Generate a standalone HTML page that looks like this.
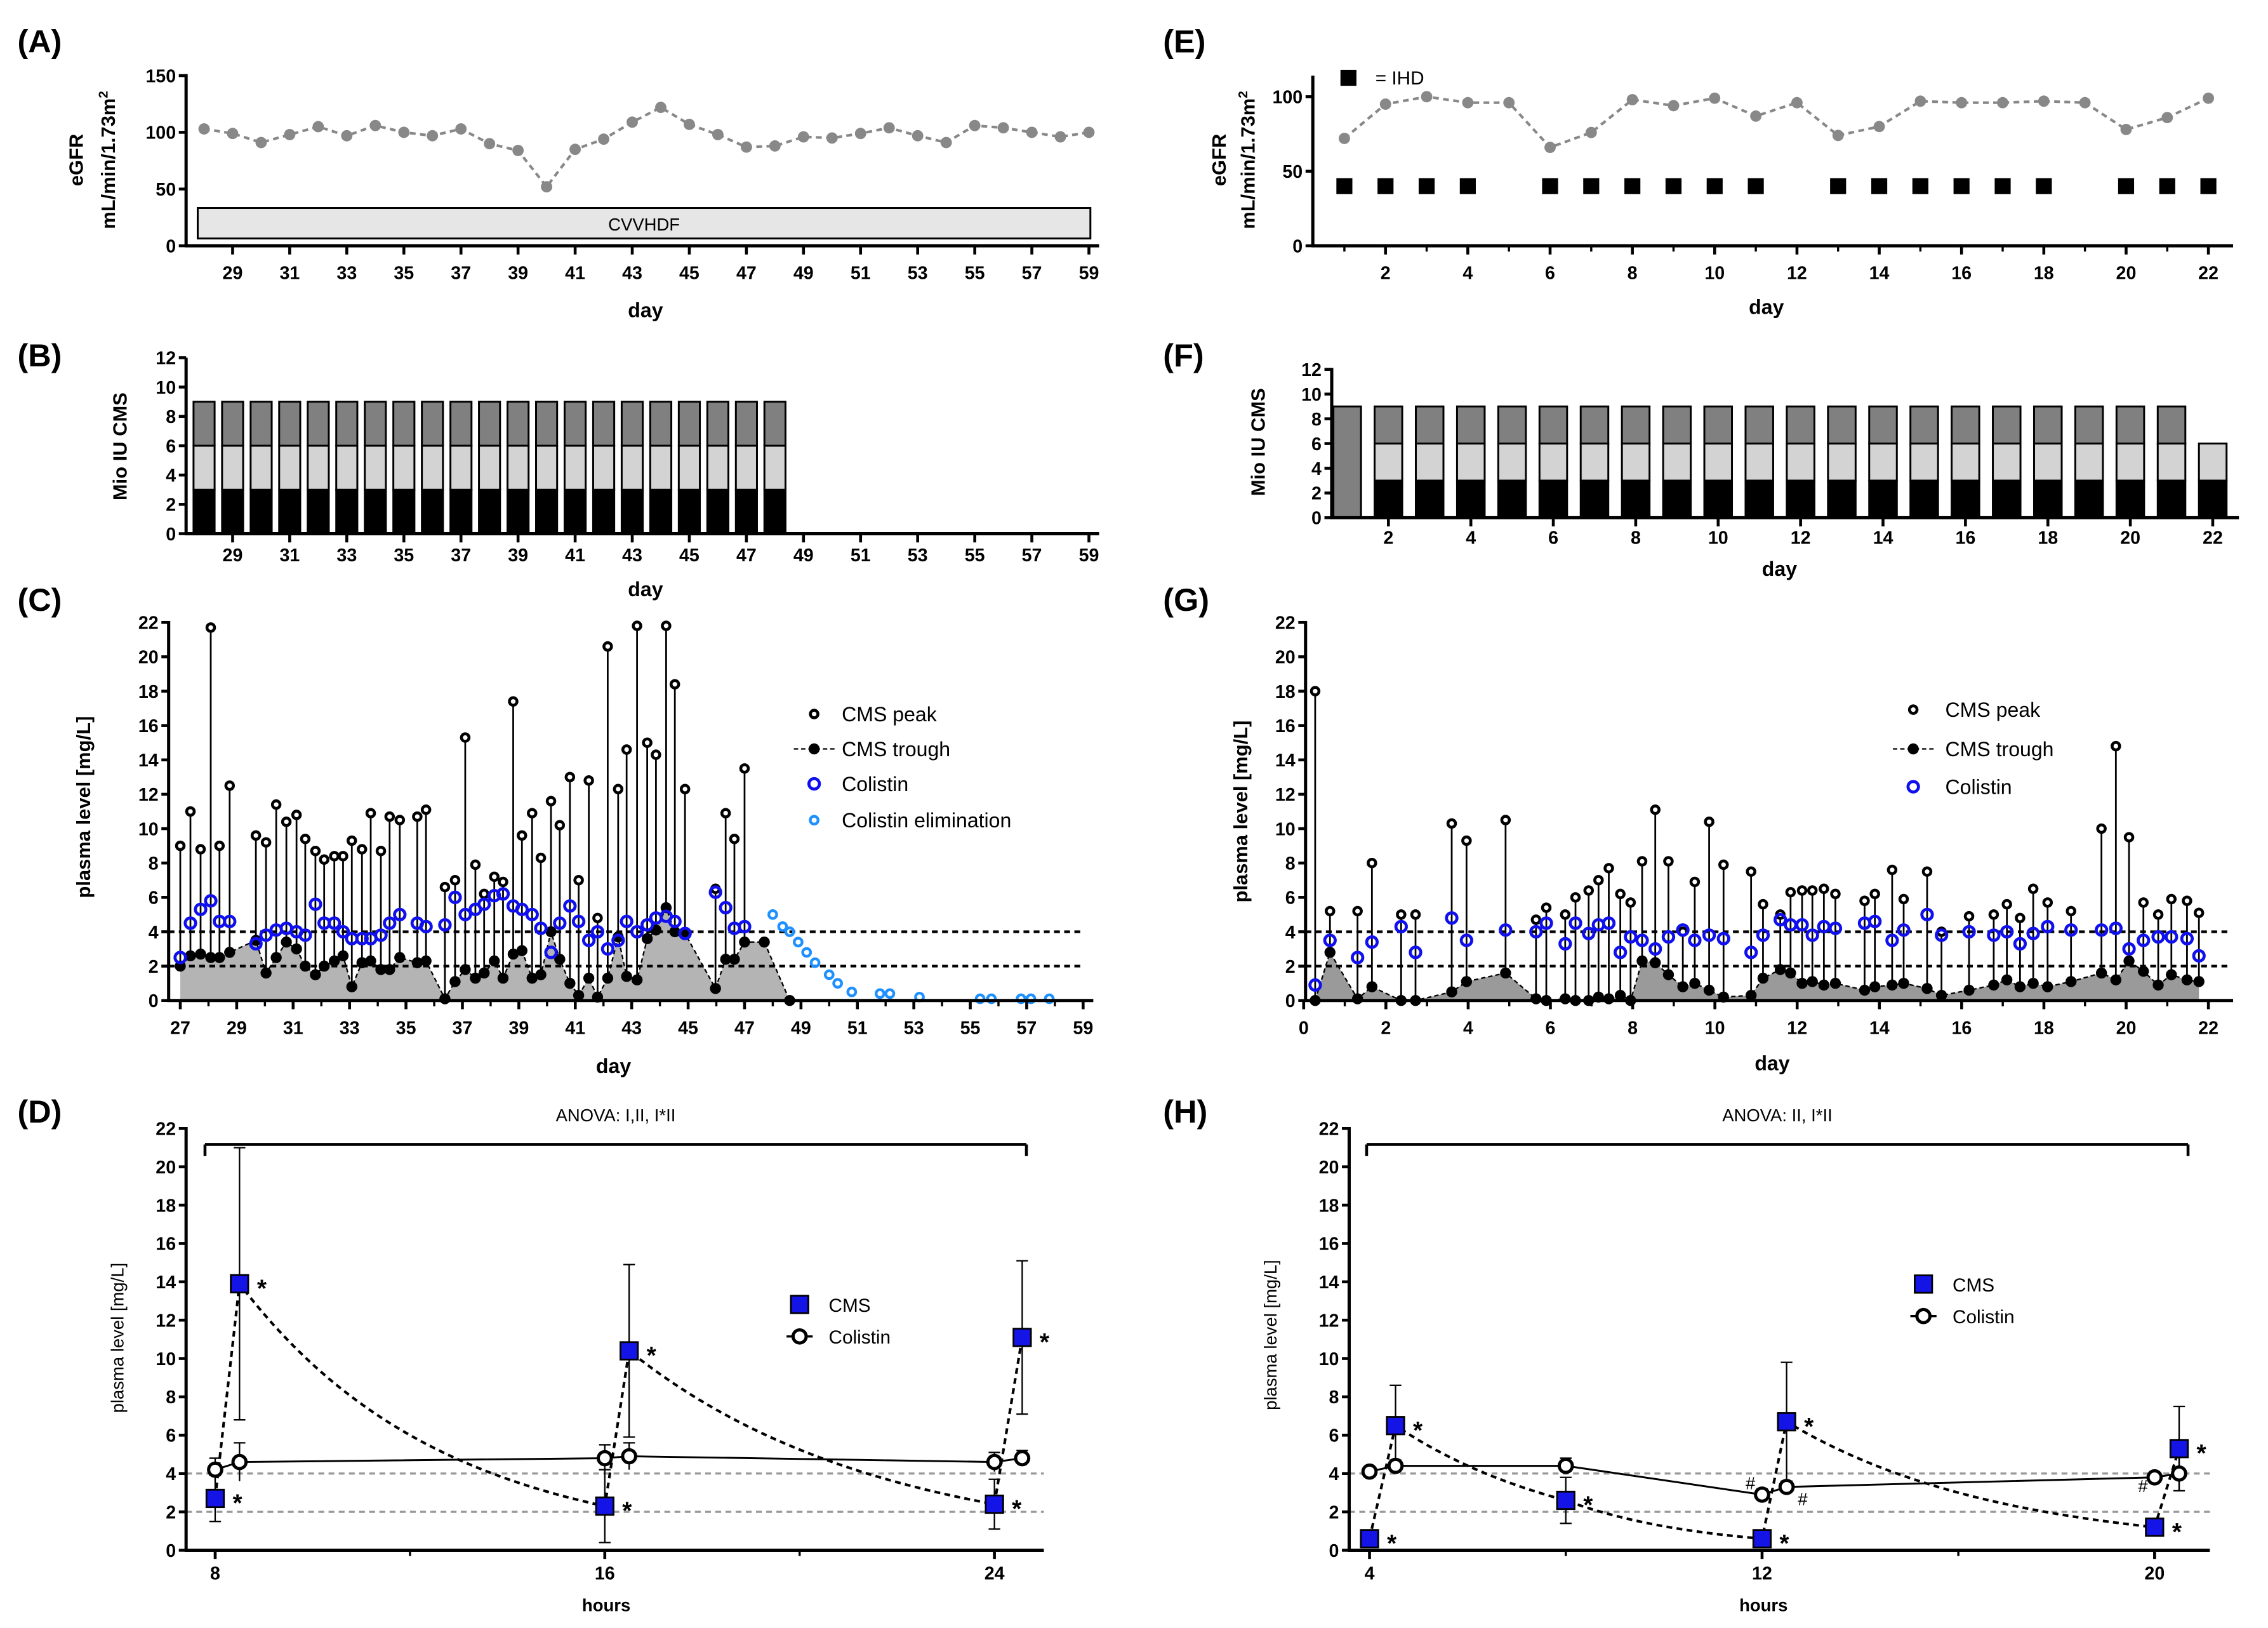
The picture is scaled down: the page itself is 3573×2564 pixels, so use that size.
<!DOCTYPE html>
<html><head><meta charset="utf-8">
<style>
html,body{margin:0;padding:0;background:#fff;}
svg{display:block;font-family:"Liberation Sans",Arial,sans-serif;}
</style></head>
<body>
<svg id="fig" xmlns="http://www.w3.org/2000/svg" width="3573" height="2564" viewBox="0 0 1560 1119.5" preserveAspectRatio="none"></svg>
<script>
// ===== Data =====
// Panel A
const aDays=[28,29,30,31,32,33,34,35,36,37,38,39,40,41,42,43,44,45,46,47,48,49,50,51,52,53,54,55,56,57,58,59];
const aEgfr=[103,99,91,98,105,97,106,100,97,103,90,84,52,85,94,109,122,107,98,87,88,96,95,99,104,97,91,106,104,100,96,100];
const aXTicks=[29,31,33,35,37,39,41,43,45,47,49,51,53,55,57,59];
const aYTicks=[0,50,100,150];
// Panel B
const bDays=[28,29,30,31,32,33,34,35,36,37,38,39,40,41,42,43,44,45,46,47,48];
const bDose1=[3,3,3,3,3,3,3,3,3,3,3,3,3,3,3,3,3,3,3,3,3];
const bDose2=[3,3,3,3,3,3,3,3,3,3,3,3,3,3,3,3,3,3,3,3,3];
const bDose3=[3,3,3,3,3,3,3,3,3,3,3,3,3,3,3,3,3,3,3,3,3];
const bYTicks=[0,2,4,6,8,10,12];
// Panel C
const cDays=[27.0,27.36,27.72,28.08,28.39,28.75,29.68,30.04,30.40,30.76,31.12,31.43,31.79,32.10,32.46,32.77,33.08,33.44,33.75,34.11,34.42,34.78,35.40,35.71,36.38,36.74,37.10,37.46,37.77,38.13,38.44,38.80,39.11,39.47,39.78,40.14,40.45,40.81,41.12,41.48,41.79,42.15,42.52,42.82,43.19,43.55,43.86,44.22,44.53,44.89,45.97,46.33,46.64,47.0];
const cPeak=[9.0,11.0,8.8,21.7,9.0,12.5,9.6,9.2,11.4,10.4,10.8,9.4,8.7,8.2,8.4,8.4,9.3,8.8,10.9,8.7,10.7,10.5,10.7,11.1,6.6,7.0,15.3,7.9,6.2,7.2,6.9,17.4,9.6,10.9,8.3,11.6,10.2,13.0,7.0,12.8,4.8,20.6,12.3,14.6,21.8,15.0,14.3,21.8,18.4,12.3,6.5,10.9,9.4,13.5];
const cTrough=[2.0,2.6,2.7,2.5,2.5,2.8,3.5,1.6,2.5,3.4,3.0,2.0,1.5,2.0,2.3,2.6,0.8,2.2,2.3,1.8,1.8,2.5,2.2,2.3,0.1,1.1,1.8,1.3,1.6,2.3,1.3,2.7,2.9,1.3,1.5,4.0,2.4,1.0,0.3,1.3,0.2,1.3,3.7,1.4,1.2,3.6,4.1,5.4,4.0,3.9,0.7,2.4,2.4,3.4];
const cColistin=[2.5,4.5,5.3,5.8,4.6,4.6,3.3,3.8,4.1,4.2,4.0,3.8,5.6,4.5,4.5,4.0,3.6,3.6,3.6,3.8,4.5,5.0,4.5,4.3,4.4,6.0,5.0,5.3,5.6,6.1,6.2,5.5,5.3,5.0,4.2,2.8,4.5,5.5,4.6,3.5,4.0,3.0,3.5,4.6,4.0,4.4,4.8,4.9,4.6,3.9,6.3,5.4,4.2,4.3];
const cTroughEndDay=[47.7,48.6];
const cTroughEndVal=[3.4,0];
const cElimDays=[48.0,48.35,48.6,48.9,49.2,49.5,50.0,50.3,50.8,51.8,52.15,53.2,55.35,55.75,56.8,57.15,57.8];
const cElimVals=[5.0,4.3,4.0,3.4,2.8,2.2,1.5,1.0,0.5,0.4,0.4,0.2,0.1,0.1,0.1,0.1,0.1];
const cXTicks=[27,29,31,33,35,37,39,41,43,45,47,49,51,53,55,57,59];
const cYTicks=[0,2,4,6,8,10,12,14,16,18,20,22];
// Panel D
const dCmsHours=[8,8.5,16,16.5,24,24.57];
const dCmsVals=[2.7,13.9,2.3,10.4,2.4,11.1];
const dCmsErr=[1.2,7.1,1.9,4.5,1.3,4.0];
const dColHours=[8,8.5,16,16.5,24,24.57];
const dColVals=[4.2,4.6,4.8,4.9,4.6,4.8];
const dColErr=[0.6,1.0,0.7,0.7,0.5,0.4];
const dXTicks=[8,16,24];
const dYTicks=[0,2,4,6,8,10,12,14,16,18,20,22];
// Panel E
const eDays=[1,2,3,4,5,6,7,8,9,10,11,12,13,14,15,16,17,18,19,20,21,22];
const eEgfr=[72,95,100,96,96,66,76,98,94,99,87,96,74,80,97,96,96,97,96,78,86,99];
const eIhdDays=[1,2,3,4,6,7,8,9,10,11,13,14,15,16,17,18,20,21,22];
const eXTicks=[2,4,6,8,10,12,14,16,18,20,22];
const eYTicks=[0,50,100];
// Panel F
const fDays=[1,2,3,4,5,6,7,8,9,10,11,12,13,14,15,16,17,18,19,20,21,22];
const fDose1=[0,3,3,3,3,3,3,3,3,3,3,3,3,3,3,3,3,3,3,3,3,3];
const fDose2=[0,3,3,3,3,3,3,3,3,3,3,3,3,3,3,3,3,3,3,3,3,3];
const fDose3=[9,3,3,3,3,3,3,3,3,3,3,3,3,3,3,3,3,3,3,3,3,0];
const fXTicks=[2,4,6,8,10,12,14,16,18,20,22];
// Panel G
const gDays=[0.28,0.64,1.31,1.66,2.37,2.72,3.60,3.96,4.91,5.65,5.90,6.36,6.61,6.93,7.17,7.42,7.70,7.95,8.23,8.55,8.87,9.22,9.51,9.86,10.21,10.88,11.17,11.59,11.84,12.12,12.37,12.65,12.93,13.64,13.89,14.31,14.59,15.16,15.51,16.18,16.78,17.10,17.42,17.74,18.09,18.66,19.40,19.75,20.07,20.42,20.78,21.10,21.48,21.77];
const gPeak=[18.0,5.2,5.2,8.0,5.0,5.0,10.3,9.3,10.5,4.7,5.4,5.0,6.0,6.4,7.0,7.7,6.2,5.7,8.1,11.1,8.1,4.0,6.9,10.4,7.9,7.5,5.6,5.0,6.3,6.4,6.4,6.5,6.2,5.8,6.2,7.6,5.9,7.5,4.0,4.9,5.0,5.6,4.8,6.5,5.7,5.2,10.0,14.8,9.5,5.7,5.0,5.9,5.8,5.1];
const gTrough=[0,2.8,0.1,0.8,0,0,0.5,1.1,1.6,0.1,0,0.1,0,0,0.2,0.1,0.3,0,2.3,2.2,1.5,0.8,1.0,0.6,0.2,0.3,1.3,1.8,1.6,1.0,1.1,0.9,1.0,0.6,0.8,0.9,1.0,0.7,0.3,0.6,0.9,1.2,0.8,1.0,0.8,1.1,1.6,1.2,2.3,1.7,0.9,1.5,1.2,1.1];
const gColistin=[0.9,3.5,2.5,3.4,4.3,2.8,4.8,3.5,4.1,4.0,4.5,3.3,4.5,3.9,4.4,4.5,2.8,3.7,3.5,3.0,3.7,4.1,3.5,3.8,3.6,2.8,3.8,4.7,4.4,4.4,3.8,4.3,4.2,4.5,4.6,3.5,4.1,5.0,3.8,4.0,3.8,4.0,3.3,3.9,4.3,4.1,4.1,4.2,3.0,3.5,3.7,3.7,3.6,2.6];
const gXTicks=[0,2,4,6,8,10,12,14,16,18,20,22];
// Panel H
const hCmsHours=[4,4.53,8,12,12.5,20,20.5];
const hCmsVals=[0.6,6.5,2.6,0.6,6.7,1.2,5.3];
const hCmsErr=[0.3,2.1,1.2,0.2,3.1,0.3,2.2];
const hColHours=[4,4.53,8,12,12.5,20,20.5];
const hColVals=[4.1,4.4,4.4,2.9,3.3,3.8,4.0];
const hColErr=[0.2,0.3,0.4,0.3,0.3,0.2,0.9];
const hXTicks=[4,12,20];

// ===== Helpers =====
const NS='http://www.w3.org/2000/svg';
const svg=document.getElementById('fig');
function mk(tag,attrs,name,parent){
  const e=document.createElementNS(NS,tag);
  for(const k in attrs) e.setAttribute(k,attrs[k]);
  
  
  (parent||svg).appendChild(e);
  return e;
}
function txt(x,y,s,name,opt){
  opt=opt||{};
  const t=mk('text',{x:x,y:y,'font-size':opt.size||13,'font-weight':opt.weight||'bold','text-anchor':opt.anchor||'middle',fill:opt.fill||'#000'},name,opt.parent);
  if(opt.rot) t.setAttribute('transform','rotate(-90 '+x+' '+y+')');
  t.textContent=s;return t;
}
function lin(d0,d1,r0,r1){return v=>r0+(v-d0)*(r1-r0)/(d1-d0);}
function line(x1,y1,x2,y2,name,opt){opt=opt||{};return mk('line',{x1:x1,y1:y1,x2:x2,y2:y2,stroke:opt.stroke||'#000','stroke-width':opt.w||2,'stroke-dasharray':opt.dash||'none'},name,opt.parent);}
function axes(p,cfg){
  const g=mk('g',{},p+'-axes');
  line(cfg.xl,cfg.yb,cfg.xl,cfg.yt,p+'-y-axis',{parent:g,w:2.2});
  line(cfg.xl-1,cfg.yb,cfg.xr,cfg.yb,p+'-x-axis',{parent:g,w:2.2});
  cfg.yTicks.forEach(v=>{const y=cfg.ys(v);line(cfg.xl-5,y,cfg.xl,y,p+'-y-tick',{parent:g});
    txt(cfg.xl-7,y+4.5,String(v),p+'-y-tick-label',{anchor:'end',size:12.5,parent:g});});
  (cfg.yMinor||[]).forEach(v=>{const y=cfg.ys(v);line(cfg.xl-3,y,cfg.xl,y,p+'-y-minor-tick',{parent:g,w:1.5});});
  cfg.xTicks.forEach(v=>{const x=cfg.xs(v);line(x,cfg.yb,x,cfg.yb+6,p+'-x-tick',{parent:g});
    if(cfg.xLabels!==false) txt(x,cfg.yb+cfg.lblOff,String(v),p+'-x-tick-label',{size:12.5,parent:g});});
  (cfg.xMinor||[]).forEach(v=>{const x=cfg.xs(v);line(x,cfg.yb,x,cfg.yb+4,p+'-x-minor-tick',{parent:g,w:1.5});});
  return g;
}
function circle(x,y,r,name,opt){return mk('circle',{cx:x,cy:y,r:r,fill:opt.fill,stroke:opt.stroke||'none','stroke-width':opt.w||0},name,opt.parent);}

// ===== Panel labels =====
[['(A)',12,36],['(B)',12,252],['(C)',12,420],['(D)',12,772],['(E)',800,36],['(F)',800,252],['(G)',800,420],['(H)',800,772]].forEach(l=>{
  txt(l[1],l[2],l[0],'panel-label-'+l[0][1].toLowerCase(),{anchor:'start',size:22});
});

// ===== Panel A =====
(function(){
  const xs=lin(29,59,160,749), ys=lin(0,150,169,52);
  axes('a',{xl:128,xr:756,yb:169,yt:51,xs:xs,ys:ys,xTicks:aXTicks,yTicks:aYTicks,lblOff:23});
  mk('rect',{x:136,y:143,width:614,height:21,fill:'#e6e6e6',stroke:'#000','stroke-width':1.3},'cvvhdf-bar');
  txt(443,158.5,'CVVHDF','cvvhdf-label',{size:12,weight:'normal'});
  mk('polyline',{points:aDays.map((d,i)=>xs(d)+','+ys(aEgfr[i])).join(' '),fill:'none',stroke:'#888','stroke-width':1.8,'stroke-dasharray':'4,3'},'a-egfr-line');
  aDays.forEach((d,i)=>circle(xs(d),ys(aEgfr[i]),3.9,'a-egfr-point',{fill:'#888'}));
  txt(444,218,'day','a-x-axis-title',{size:14});
  txt(57,110,'eGFR','a-y-axis-title',{size:13.5,rot:true});
  const t=txt(79,110,'mL/min/1.73m','a-y-axis-unit',{size:13.5,rot:true});
  const s=document.createElementNS(NS,'tspan');s.setAttribute('dy','-5');s.setAttribute('font-size','9');s.textContent='2';t.appendChild(s);
})();

// ===== Panel B =====
(function(){
  const xs=lin(29,59,160,749), ys=lin(0,12,367,246);
  const bw=14.5;
  bDays.forEach((d,i)=>{
    const x=xs(d)-bw/2; let base=0;
    [[bDose1,'#000'],[bDose2,'#d3d3d3'],[bDose3,'#808080']].forEach((s,k)=>{
      const v=s[0][i]; if(!v) return;
      mk('rect',{x:x,y:ys(base+v),width:bw,height:ys(base)-ys(base+v),fill:s[1],stroke:'#000','stroke-width':1.3},'b-bar-dose'+(k+1));
      base+=v;
    });
  });
  axes('b',{xl:128,xr:756,yb:367,yt:246,xs:xs,ys:ys,xTicks:aXTicks,yTicks:bYTicks,lblOff:19});
  txt(444,410,'day','b-x-axis-title',{size:14});
  txt(87,307,'Mio IU CMS','b-y-axis-title',{size:13.5,rot:true});
})();

// ===== trough/peak panels =====
function tpPanel(p,cfg){
  const xs=cfg.xs, ys=cfg.ys;
  const td=cfg.days.concat(cfg.endDays||[]), tv=cfg.trough.concat(cfg.endVals||[]);
  const pts=td.map((d,i)=>xs(d)+','+ys(tv[i]));
  mk('polygon',{points:xs(td[0])+','+ys(0)+' '+pts.join(' ')+' '+xs(td[td.length-1])+','+ys(0),fill:cfg.areaFill,stroke:'none'},p+'-trough-area');
  mk('polyline',{points:pts.join(' '),fill:'none',stroke:'#000','stroke-width':1,'stroke-dasharray':'3,2'},p+'-trough-line');
  cfg.days.forEach((d,i)=>line(xs(d),ys(cfg.trough[i]),xs(d),ys(cfg.peak[i]),p+'-peak-stem',{w:1.2}));
  line(cfg.xl,ys(4),cfg.xr,ys(4),p+'-threshold-4',{w:1.8,dash:'4,3'});
  line(cfg.xl,ys(2),cfg.xr,ys(2),p+'-threshold-2',{w:1.8,dash:'4,3'});
  td.forEach((d,i)=>circle(xs(d),ys(tv[i]),3.8,p+'-trough-point',{fill:'#000'}));
  cfg.days.forEach((d,i)=>circle(xs(d),ys(cfg.peak[i]),2.6,p+'-peak-point',{fill:'#fff',stroke:'#000',w:2}));
  cfg.days.forEach((d,i)=>circle(xs(d),ys(cfg.col[i]),3.6,p+'-colistin-point',{fill:'none',stroke:'#1010ee',w:2.1}));
  (cfg.elimDays||[]).forEach((d,i)=>circle(xs(d),ys(cfg.elimVals[i]),2.7,p+'-colistin-elim-point',{fill:'none',stroke:'#1e90ff',w:1.9}));
}
// Panel C
(function(){
  const xs=lin(27,59,124,745), ys=lin(0,22,688,428);
  tpPanel('c',{xs:xs,ys:ys,xl:116,xr:746,days:cDays,peak:cPeak,trough:cTrough,col:cColistin,endDays:cTroughEndDay,endVals:cTroughEndVal,elimDays:cElimDays,elimVals:cElimVals,areaFill:'#b4b4b4'});
  const minor=[];for(let d=28;d<=58;d+=2)minor.push(d);
  axes('c',{xl:116,xr:752,yb:688,yt:427,xs:xs,ys:ys,xTicks:cXTicks,yTicks:cYTicks,lblOff:23,xMinor:minor});
  txt(422,738,'day','c-x-axis-title',{size:14});
  txt(62,555,'plasma level [mg/L]','c-y-axis-title',{size:13.5,rot:true});
  const lg=mk('g',{},'c-legend');
  circle(560,491,2.6,'c-legend-peak-marker',{fill:'#fff',stroke:'#000',w:2,parent:lg});
  line(546,515,574,515,'c-legend-trough-line',{w:1,dash:'3,2',parent:lg});
  circle(560,515,3.8,'c-legend-trough-marker',{fill:'#000',parent:lg});
  circle(560,539,3.6,'c-legend-colistin-marker',{fill:'none',stroke:'#1010ee',w:2.1,parent:lg});
  circle(560,564,2.7,'c-legend-elim-marker',{fill:'none',stroke:'#1e90ff',w:1.9,parent:lg});
  [['CMS peak',491],['CMS trough',515],['Colistin',539],['Colistin elimination',564]].forEach(l=>txt(579,l[1]+5,l[0],'c-legend-label',{anchor:'start',size:14,weight:'normal',parent:lg}));
})();
// Panel G
(function(){
  const xs=lin(0,22,896.7,1519), ys=lin(0,22,688,428);
  tpPanel('g',{xs:xs,ys:ys,xl:898,xr:1535,days:gDays,peak:gPeak,trough:gTrough,col:gColistin,areaFill:'#9a9a9a'});
  const minor=[];for(let d=1;d<=21;d+=2)minor.push(d);
  axes('g',{xl:898,xr:1536,yb:688,yt:427,xs:xs,ys:ys,xTicks:gXTicks,yTicks:cYTicks,lblOff:23,xMinor:minor});
  txt(1219,736,'day','g-x-axis-title',{size:14});
  txt(858,558,'plasma level [mg/L]','g-y-axis-title',{size:13.5,rot:true});
  const lg=mk('g',{},'g-legend');
  circle(1316,488,2.6,'g-legend-peak-marker',{fill:'#fff',stroke:'#000',w:2,parent:lg});
  line(1302,515,1330,515,'g-legend-trough-line',{w:1,dash:'3,2',parent:lg});
  circle(1316,515,3.8,'g-legend-trough-marker',{fill:'#000',parent:lg});
  circle(1316,541,3.6,'g-legend-colistin-marker',{fill:'none',stroke:'#1010ee',w:2.1,parent:lg});
  [['CMS peak',488],['CMS trough',515],['Colistin',541]].forEach(l=>txt(1338,l[1]+5,l[0],'g-legend-label',{anchor:'start',size:14,weight:'normal',parent:lg}));
})();

// ===== Panel E =====
(function(){
  const xs=lin(2,22,953,1519), ys=lin(0,100,169,66.5);
  axes('e',{xl:903,xr:1536,yb:169,yt:52,xs:xs,ys:ys,xTicks:eXTicks,yTicks:eYTicks,lblOff:23,xMinor:[1,3,5,7,9,11,13,15,17,19,21]});
  mk('polyline',{points:eDays.map((d,i)=>xs(d)+','+ys(eEgfr[i])).join(' '),fill:'none',stroke:'#888','stroke-width':1.8,'stroke-dasharray':'4,3'},'e-egfr-line');
  eDays.forEach((d,i)=>circle(xs(d),ys(eEgfr[i]),3.9,'e-egfr-point',{fill:'#888'}));
  eIhdDays.forEach(d=>mk('rect',{x:xs(d)-5.5,y:ys(40)-5.5,width:11,height:11,fill:'#000'},'e-ihd-marker'));
  mk('rect',{x:922,y:48,width:11,height:11,fill:'#000'},'e-legend-ihd-marker');
  txt(946,58,'= IHD','e-legend-label',{anchor:'start',size:13,weight:'normal'});
  txt(1215,216,'day','e-x-axis-title',{size:14});
  txt(843,110,'eGFR','e-y-axis-title',{size:13.5,rot:true});
  const t=txt(863,110,'mL/min/1.73m','e-y-axis-unit',{size:13.5,rot:true});
  const s=document.createElementNS(NS,'tspan');s.setAttribute('dy','-5');s.setAttribute('font-size','9');s.textContent='2';t.appendChild(s);
})();

// ===== Panel F =====
(function(){
  const xs=lin(2,22,955,1522), ys=lin(0,12,356,254);
  const bw=19;
  fDays.forEach((d,i)=>{
    const x=xs(d)-bw/2; let base=0;
    [[fDose1,'#000'],[fDose2,'#d3d3d3'],[fDose3,'#808080']].forEach((s,k)=>{
      const v=s[0][i]; if(!v) return;
      mk('rect',{x:x,y:ys(base+v),width:bw,height:ys(base)-ys(base+v),fill:s[1],stroke:'#000','stroke-width':1.3},'f-bar-dose'+(k+1));
      base+=v;
    });
  });
  axes('f',{xl:916,xr:1540,yb:356,yt:253,xs:xs,ys:ys,xTicks:fXTicks,yTicks:bYTicks,lblOff:18});
  txt(1224,396,'day','f-x-axis-title',{size:14});
  txt(870,304,'Mio IU CMS','f-y-axis-title',{size:13.5,rot:true});
})();

// ===== PK panels D and H =====
function pkPanel(p,cfg){
  const xs=cfg.xs, ys=cfg.ys;
  line(cfg.xl,ys(4),cfg.xr,ys(4),p+'-threshold-4',{w:1.5,dash:'4,3',stroke:'#999'});
  line(cfg.xl,ys(2),cfg.xr,ys(2),p+'-threshold-2',{w:1.5,dash:'4,3',stroke:'#999'});
  line(cfg.bx0,787,cfg.bx1,787,p+'-anova-bracket',{w:2});
  line(cfg.bx0,787,cfg.bx0,795,p+'-anova-bracket-left',{w:2});
  line(cfg.bx1,787,cfg.bx1,795,p+'-anova-bracket-right',{w:2});
  txt((cfg.bx0+cfg.bx1)/2,771,cfg.anova,p+'-anova-label',{size:12,weight:'normal'});
  const H=cfg.cmsH,V=cfg.cmsV; let pts=[];
  for(let i=0;i<H.length-1;i++){
    if(V[i+1]>V[i]){pts.push([H[i],V[i]],[H[i+1],V[i+1]]);}
    else{const k=Math.log(V[i]/V[i+1])/(H[i+1]-H[i]);
      for(let t=H[i];t<=H[i+1]+1e-6;t+=0.1)pts.push([t,V[i]*Math.exp(-k*(t-H[i]))]);}
  }
  mk('polyline',{points:pts.map(q=>xs(q[0])+','+ys(q[1])).join(' '),fill:'none',stroke:'#000','stroke-width':1.8,'stroke-dasharray':'4,3'},p+'-cms-curve');
  mk('polyline',{points:cfg.colH.map((h,i)=>xs(h)+','+ys(cfg.colV[i])).join(' '),fill:'none',stroke:'#000','stroke-width':1.3},p+'-colistin-line');
  H.forEach((h,i)=>{const x=xs(h);line(x,ys(V[i]-cfg.cmsE[i]),x,ys(V[i]+cfg.cmsE[i]),p+'-cms-errorbar',{w:1});
    line(x-4,ys(V[i]+cfg.cmsE[i]),x+4,ys(V[i]+cfg.cmsE[i]),p+'-cms-errorcap',{w:1});
    line(x-4,ys(Math.max(0,V[i]-cfg.cmsE[i])),x+4,ys(Math.max(0,V[i]-cfg.cmsE[i])),p+'-cms-errorcap',{w:1});});
  cfg.colH.forEach((h,i)=>{const x=xs(h);line(x,ys(cfg.colV[i]-cfg.colE[i]),x,ys(cfg.colV[i]+cfg.colE[i]),p+'-colistin-errorbar',{w:1});
    line(x-4,ys(cfg.colV[i]+cfg.colE[i]),x+4,ys(cfg.colV[i]+cfg.colE[i]),p+'-colistin-errorcap',{w:1});});
  cfg.colH.forEach((h,i)=>circle(xs(h),ys(cfg.colV[i]),4.5,p+'-colistin-point',{fill:'#fff',stroke:'#000',w:2.2}));
  H.forEach((h,i)=>{mk('rect',{x:xs(h)-6,y:ys(V[i])-6,width:12,height:12,fill:'#1414e6',stroke:'#000','stroke-width':1.2},p+'-cms-point');
    txt(xs(h)+12,ys(V[i])+9,'*',p+'-significance-star',{size:17,anchor:'start'});});
  (cfg.hashes||[]).forEach(hh=>txt(hh[0],hh[1],'#',p+'-hash-mark',{size:12,weight:'normal'}));
  const lg=mk('g',{},p+'-legend');
  mk('rect',{x:cfg.lx-6,y:cfg.ly-6,width:12,height:12,fill:'#1414e6',stroke:'#000','stroke-width':1.2},p+'-legend-cms-marker',lg);
  line(cfg.lx-9,cfg.ly+22,cfg.lx+9,cfg.ly+22,p+'-legend-colistin-line',{w:1.5,parent:lg});
  circle(cfg.lx,cfg.ly+22,4.5,p+'-legend-colistin-marker',{fill:'#fff',stroke:'#000',w:2.2,parent:lg});
  txt(cfg.lx+20,cfg.ly+5,'CMS',p+'-legend-label',{anchor:'start',size:13,weight:'normal',parent:lg});
  txt(cfg.lx+20,cfg.ly+27,'Colistin',p+'-legend-label',{anchor:'start',size:13,weight:'normal',parent:lg});
}
(function(){
  const xs=lin(8,24,148,684), ys=lin(0,22,1066,776);
  pkPanel('d',{xs:xs,ys:ys,xl:128,xr:718,bx0:141,bx1:706,anova:'ANOVA: I,II, I*II',cmsH:dCmsHours,cmsV:dCmsVals,cmsE:dCmsErr,colH:dColHours,colV:dColVals,colE:dColErr,lx:550,ly:897});
  axes('d',{xl:128,xr:718,yb:1066,yt:775,xs:xs,ys:ys,xTicks:dXTicks,yTicks:dYTicks,lblOff:20,xMinor:[12,20]});
  txt(417,1108,'hours','d-x-axis-title',{size:12});
  txt(85,920,'plasma level [mg/L]','d-y-axis-title',{size:12,weight:'normal',rot:true});
})();
(function(){
  const xs=lin(4,20,942,1482), ys=lin(0,22,1066,776);
  pkPanel('h',{xs:xs,ys:ys,xl:928,xr:1520,bx0:940,bx1:1505,anova:'ANOVA: II, I*II',cmsH:hCmsHours,cmsV:hCmsVals,cmsE:hCmsErr,colH:hColHours,colV:hColVals,colE:hColErr,lx:1323,ly:883,hashes:[[1204,1024],[1240,1035],[1474,1026]]});
  axes('h',{xl:928,xr:1520,yb:1066,yt:775,xs:xs,ys:ys,xTicks:hXTicks,yTicks:dYTicks,lblOff:20,xMinor:[8,16]});
  txt(1213,1108,'hours','h-x-axis-title',{size:12});
  txt(878,918,'plasma level [mg/L]','h-y-axis-title',{size:12,weight:'normal',rot:true});
})();
</script>
</body></html>
